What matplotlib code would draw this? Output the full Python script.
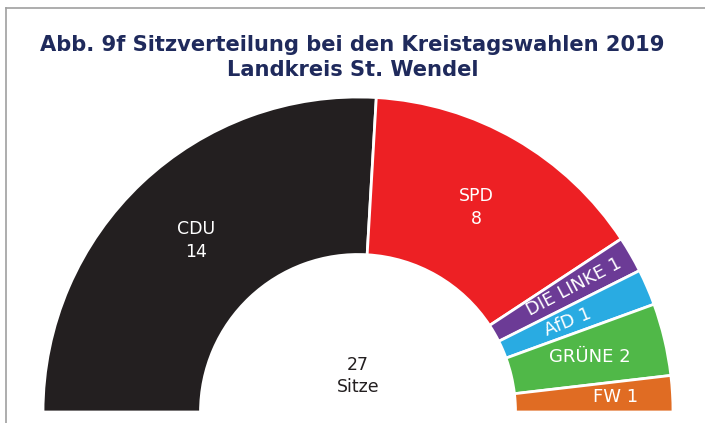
import numpy as np
import matplotlib.pyplot as plt
from matplotlib.lines import Line2D

parteien = ["CDU", "SPD", "DIE LINKE", "AfD", "GRÜNE", "FW"]
sitze = [14, 8, 1, 1, 2, 1]
farben = ["#231f20", "#ed2024", "#6c3b96", "#29abe2", "#50b848", "#e06c23"]
gesamt = sum(sitze)

fig = plt.figure(figsize=(7.05, 4.23), dpi=100)
ax = fig.add_axes([0, 0, 1, 1])

# Halbkreis: unsichtbarer Füllsektor für die untere Hälfte
cx, cy, R = 358, 11, 315
wedges, _ = ax.pie(sitze + [gesamt], colors=farben + ["none"], startangle=180,
                   counterclock=False, radius=R, center=(cx, cy),
                   wedgeprops=dict(width=R * 0.5, edgecolor="white", linewidth=2))
wedges[-1].set_edgecolor("none")
ax.set_xlim(0, 705)
ax.set_ylim(0, 423)
ax.axis("off")

# Beschriftungen
grenzen = 180 - np.cumsum([0] + sitze) / gesamt * 180
mitten = (grenzen[:-1] + grenzen[1:]) / 2
rad = [236, 236, 250, 228, 238, 258]
dreh = [0, 0, 28, 22, 0, 0]
groesse = [12.5, 12.5, 13, 13, 13, 13]
for i, (p, s) in enumerate(zip(parteien, sitze)):
    a = np.deg2rad(mitten[i])
    x = cx + rad[i] * np.cos(a)
    y = cy + rad[i] * np.sin(a)
    txt = f"{p}\n{s}" if i < 2 else f"{p} {s}"
    ax.text(x, y, txt, color="white", fontsize=groesse[i], ha="center", va="center",
            rotation=dreh[i], rotation_mode="anchor", linespacing=1.35)

ax.text(cx, cy + 36, f"{gesamt}\nSitze", color="#231f20", fontsize=12.5,
        ha="center", va="center", linespacing=1.25)

fig.text(0.5, 0.864, "Abb. 9f Sitzverteilung bei den Kreistagswahlen 2019\nLandkreis St. Wendel",
         ha="center", va="center", fontsize=15.1, fontweight="bold", color="#1f2a5c",
         linespacing=1.3)

# Rahmen oben und links
fig.add_artist(Line2D([6 / 705, 1], [1 - 8 / 423, 1 - 8 / 423], color="#a0a0a0", lw=1.2))
fig.add_artist(Line2D([6 / 705, 6 / 705], [0, 1 - 8 / 423], color="#a0a0a0", lw=1.2))

plt.savefig("out.png", dpi=100)
